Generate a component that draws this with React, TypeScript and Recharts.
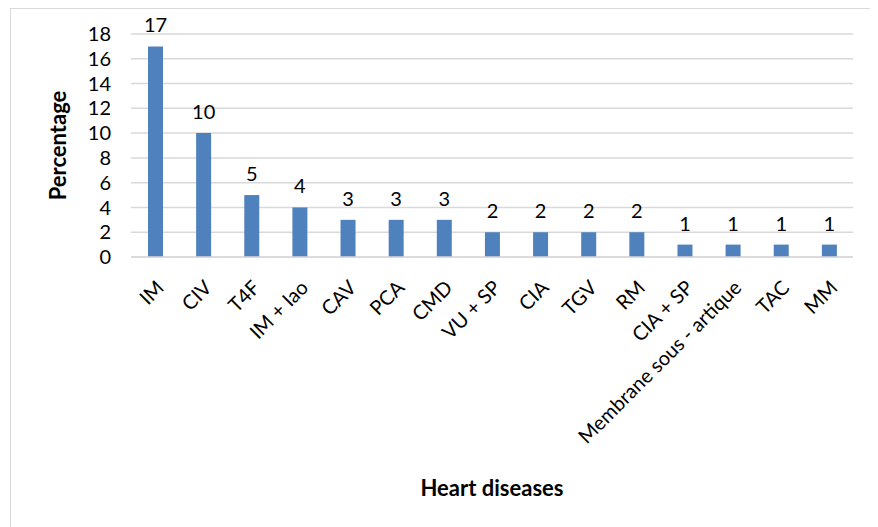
import { BarChart, Bar, XAxis, YAxis, CartesianGrid, LabelList, Label } from "recharts";

const diseases = [
  "IM",
  "CIV",
  "T4F",
  "IM + Iao",
  "CAV",
  "PCA",
  "CMD",
  "VU + SP",
  "CIA",
  "TGV",
  "RM",
  "CIA + SP",
  "Membrane sous - artique",
  "TAC",
  "MM",
];
const percentages = [17, 10, 5, 4, 3, 3, 3, 2, 2, 2, 2, 1, 1, 1, 1];
const yTicks = [0, 2, 4, 6, 8, 10, 12, 14, 16, 18];

const FONT = "Lato, 'Open Sans', sans-serif";
const TEXT = "#000";
const GRID = "#d9d9d9";
const BAR = "#4f81bd";

const rows = diseases.map((name, i) => ({ name, value: percentages[i] }));

function SlantTick({ x, y, payload }: any) {
  const px = x + 10;
  const py = y + 24;
  return (
    <text
      x={px}
      y={py}
      transform={`rotate(-45, ${px}, ${py})`}
      textAnchor="end"
      fontFamily={FONT}
      fontSize={20}
      fill={TEXT}
    >
      {payload.value}
    </text>
  );
}

export default function App() {
  return (
    <div style={{ position: "relative", width: 870, height: 519, overflow: "hidden", background: "#fff" }}>
      <div
        style={{
          position: "absolute",
          left: 2,
          top: 0,
          width: 900,
          height: 600,
          border: `1.5px solid ${GRID}`,
          boxSizing: "border-box",
        }}
      />
      <BarChart
        width={870}
        height={519}
        data={rows}
        margin={{ top: 26, right: 25, left: 0, bottom: 0 }}
        style={{ position: "absolute", left: 0, top: 0 }}
      >
        <CartesianGrid vertical={false} stroke={GRID} strokeWidth={1.5} />
        <XAxis
          dataKey="name"
          interval={0}
          height={270}
          tickLine={false}
          axisLine={{ stroke: GRID, strokeWidth: 1.5 }}
          tick={<SlantTick />}
        >
          <Label
            value="Heart diseases"
            position="insideBottom"
            offset={31}
            style={{ fontFamily: FONT, fontSize: 22, fontWeight: 700, fill: TEXT }}
          />
        </XAxis>
        <YAxis
          domain={[0, 18]}
          ticks={yTicks}
          interval={0}
          width={123}
          tickLine={false}
          tickSize={0}
          tickMargin={20}
          axisLine={false}
          tick={{ fontFamily: FONT, fontSize: 20, fill: TEXT }}
        >
          <Label
            value="Percentage"
            angle={-90}
            position="insideLeft"
            offset={50}
            style={{ fontFamily: FONT, fontSize: 22, fontWeight: 700, fill: TEXT, textAnchor: "middle" }}
          />
        </YAxis>
        <Bar dataKey="value" fill={BAR} barSize={15} isAnimationActive={false}>
          <LabelList
            dataKey="value"
            position="top"
            offset={14}
            style={{ fontFamily: FONT, fontSize: 20, fill: TEXT }}
          />
        </Bar>
      </BarChart>
    </div>
  );
}
